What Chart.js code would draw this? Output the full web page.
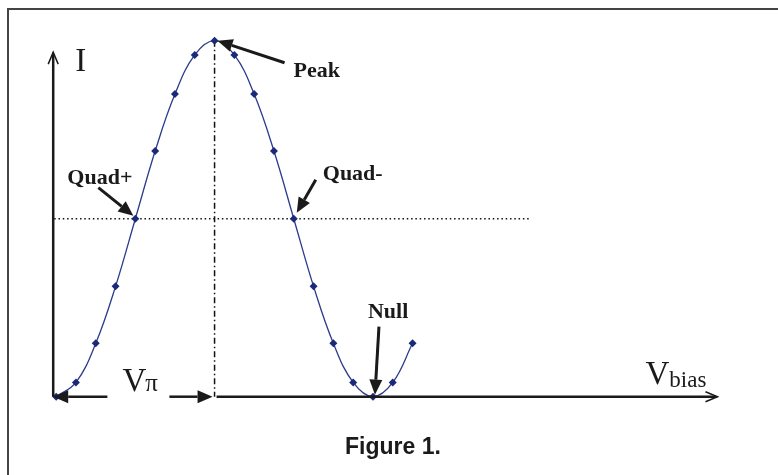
<!DOCTYPE html>
<html>
<head>
<meta charset="utf-8">
<script src="https://cdn.jsdelivr.net/npm/chart.js@4/dist/chart.umd.min.js"></script>
<style>
  html, body { margin: 0; padding: 0; background: #fff; }
  canvas { display: block; }
</style>
</head>
<body>
<canvas id="fig" width="778" height="475"></canvas>
<script>
// bias voltage in steps of Vpi/8, normalised intensity
const biasSteps = [0, 1, 2, 3, 4, 5, 6, 7, 8, 9, 10, 11, 12, 13, 14, 15, 16, 17, 18];
const intensity = [0, 0.04, 0.15, 0.31, 0.5, 0.69, 0.85, 0.96, 1, 0.96, 0.85, 0.69, 0.5, 0.31, 0.15, 0.04, 0, 0.04, 0.15];

// labelled operating points (index into biasSteps)
const markNames = ['Peak', 'Quad+', 'Quad-', 'Null'];
const markIndex = [8, 4, 12, 16];

const caption = 'Figure 1.';

function arrow(ctx, x1, y1, x2, y2, filled) {
  const a = Math.atan2(y2 - y1, x2 - x1);
  const len = filled ? 15 : 12, half = filled ? 6.5 : 5;
  const bx = x2 - len * Math.cos(a), by = y2 - len * Math.sin(a);
  ctx.beginPath();
  ctx.moveTo(x1, y1);
  ctx.lineTo(filled ? bx : x2, filled ? by : y2);
  ctx.stroke();
  const lx = bx + half * Math.sin(a), ly = by - half * Math.cos(a);
  const rx = bx - half * Math.sin(a), ry = by + half * Math.cos(a);
  ctx.beginPath();
  if (filled) {
    ctx.moveTo(x2, y2); ctx.lineTo(lx, ly); ctx.lineTo(rx, ry); ctx.closePath();
    ctx.fill();
  } else {
    ctx.moveTo(lx, ly); ctx.lineTo(x2, y2); ctx.lineTo(rx, ry);
    ctx.stroke();
  }
}

const guides = {
  id: 'guides',
  beforeDatasetsDraw(chart) {
    const ctx = chart.ctx, xs = chart.scales.x, ys = chart.scales.y;
    const peakX = xs.getPixelForValue(biasSteps[8]);
    ctx.save();
    ctx.strokeStyle = '#111';
    // vertical dash-dot line through the peak
    ctx.lineWidth = 1.5;
    ctx.setLineDash([6, 3, 1.5, 3]);
    ctx.beginPath();
    ctx.moveTo(peakX, ys.getPixelForValue(1));
    ctx.lineTo(peakX, ys.getPixelForValue(0));
    ctx.stroke();
    // dotted line at half intensity
    ctx.setLineDash([1.5, 2.8]);
    ctx.beginPath();
    ctx.moveTo(xs.getPixelForValue(-0.1), ys.getPixelForValue(0.5));
    ctx.lineTo(xs.getPixelForValue(24), ys.getPixelForValue(0.5));
    ctx.stroke();
    ctx.restore();
  },
  afterDatasetsDraw(chart) {
    const ctx = chart.ctx, xs = chart.scales.x, ys = chart.scales.y;
    const ox = xs.getPixelForValue(-0.2), oy = ys.getPixelForValue(0);
    const peakX = xs.getPixelForValue(biasSteps[8]);
    ctx.save();

    // frame (open at right and bottom)
    ctx.strokeStyle = '#444';
    ctx.lineWidth = 2;
    ctx.beginPath();
    ctx.moveTo(8, 475); ctx.lineTo(8, 9); ctx.lineTo(778, 9);
    ctx.stroke();

    ctx.strokeStyle = '#1a1a1a';
    ctx.fillStyle = '#1a1a1a';
    ctx.lineWidth = 2.5;
    // I axis
    ctx.beginPath();
    ctx.moveTo(ox + 1, oy);
    ctx.lineTo(ox + 1, ys.getPixelForValue(0.962));
    ctx.stroke();
    ctx.lineWidth = 1.5;
    arrow(ctx, ox + 1, ys.getPixelForValue(0.9), ox + 1, ys.getPixelForValue(0.968), false);
    // Vbias axis
    ctx.lineWidth = 2.5;
    const endX = xs.getPixelForValue(33.4);
    ctx.beginPath();
    ctx.moveTo(peakX + 2, oy); ctx.lineTo(endX - 2, oy);
    ctx.stroke();
    ctx.lineWidth = 1.5;
    arrow(ctx, endX - 20, oy, endX, oy, false);
    // Vpi dimension arrows
    ctx.lineWidth = 2.5;
    const mid = (ox + peakX) / 2 + 5;
    arrow(ctx, mid - 31, oy, ox + 1, oy, true);
    arrow(ctx, mid + 31, oy, peakX - 2, oy, true);

    // axis text
    ctx.textBaseline = 'alphabetic';
    ctx.textAlign = 'left';
    ctx.font = '33px "Liberation Serif", serif';
    ctx.fillText('I', ox + 23, ys.getPixelForValue(0.915));
    ctx.fillText('V', mid - 16, oy - 6);
    const vw = ctx.measureText('V').width;
    ctx.font = '25px "Liberation Serif", serif';
    ctx.fillText('\u03c0', mid - 16 + vw - 1, oy - 6);
    ctx.font = '33px "Liberation Serif", serif';
    ctx.fillText('V', endX - 72, oy - 13);
    const bw = ctx.measureText('V').width;
    ctx.font = '23px "Liberation Serif", serif';
    ctx.fillText('bias', endX - 72 + bw, oy - 10);

    // operating point call-outs: [arrow tail dx, dy, tip dx, dy, text dx, dy]
    const offs = [
      [70, 22, 3, 0, 79, 36],
      [-37, -31, -2, -3, -68, -35],
      [22, -39, 3, -6, 29, -39],
      [6, -70, 2, -2, -5, -79]
    ];
    ctx.lineWidth = 3;
    ctx.font = 'bold 22px "Liberation Serif", serif';
    markNames.forEach((name, i) => {
      const k = markIndex[i];
      const px = xs.getPixelForValue(biasSteps[k]);
      const py = ys.getPixelForValue(intensity[k]);
      const o = offs[i];
      arrow(ctx, px + o[0], py + o[1], px + o[2], py + o[3], true);
      ctx.fillText(name, px + o[4], py + o[5]);
    });

    // caption
    ctx.font = 'bold 23px "Liberation Sans", Arial, sans-serif';
    ctx.textAlign = 'center';
    ctx.fillText(caption, 393, 454);
    ctx.restore();
  }
};

new Chart(document.getElementById('fig').getContext('2d'), {
  type: 'line',
  data: {
    datasets: [{
      data: biasSteps.map((x, i) => ({ x: x, y: intensity[i] })),
      borderColor: '#2b3a8c',
      borderWidth: 1.3,
      tension: 0.4,
      pointStyle: 'rectRot',
      pointRadius: 4,
      pointBackgroundColor: '#1b2a78',
      pointBorderColor: '#1b2a78',
      pointBorderWidth: 0,
      clip: false
    }]
  },
  options: {
    responsive: false,
    animation: false,
    events: [],
    layout: { padding: { left: 52.2, right: 60.5, top: 40.7, bottom: 78.3 } },
    plugins: { legend: { display: false }, tooltip: { enabled: false } },
    scales: {
      x: { type: 'linear', min: -0.2, max: 33.4, display: false },
      y: { type: 'linear', min: 0, max: 1, display: false }
    }
  },
  plugins: [guides]
});
</script>
</body>
</html>
